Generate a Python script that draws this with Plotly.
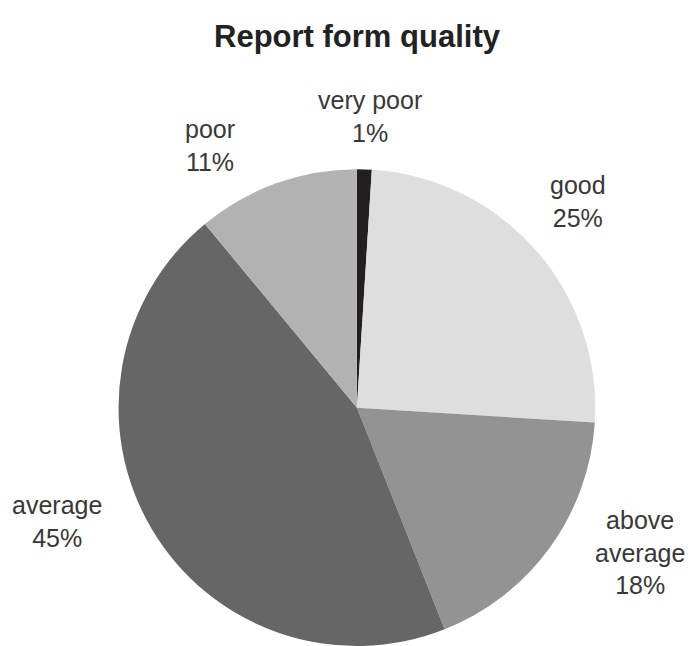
import plotly.graph_objects as go

# Survey answers, clockwise from 12 o'clock
categories = ["very poor", "good", "above average", "average", "poor"]
shares = [1, 25, 18, 45, 11]
label_text = ["very poor", "good", "above<br>average", "average", "poor"]
slice_colors = ["#231f20", "#dedede", "#939393", "#666666", "#b2b2b2"]

# Label anchor points in pixels (x from left, y from top) of the 693x646 canvas
label_px = [(370, 117), (578, 201), (640, 552), (57, 521), (210, 146)]

W, H = 693, 646

fig = go.Figure(
    go.Pie(
        labels=categories,
        values=shares,
        sort=False,
        direction="clockwise",
        rotation=0,
        textinfo="none",
        hoverinfo="label+percent",
        marker=dict(colors=slice_colors, line=dict(width=0)),
        domain=dict(x=[0.170, 0.860], y=[0.0, 0.738]),
        showlegend=False,
    )
)

for txt, val, (px, py) in zip(label_text, shares, label_px):
    fig.add_annotation(
        text=f"{txt}<br>{val}%",
        x=px / W,
        y=1 - py / H,
        xref="paper",
        yref="paper",
        xanchor="center",
        yanchor="middle",
        showarrow=False,
        align="center",
        font=dict(family="Liberation Sans, Arial, sans-serif", size=25, color="#383838"),
    )

fig.update_layout(
    width=W,
    height=H,
    margin=dict(l=0, r=0, t=0, b=0),
    paper_bgcolor="white",
    plot_bgcolor="white",
    title=dict(
        text="<b>Report form quality</b>",
        x=357 / W,
        xanchor="center",
        y=1 - 36 / H,
        yanchor="middle",
        font=dict(family="Liberation Sans, Arial, sans-serif", size=31, color="#222222"),
    ),
)

fig.write_html("out.html")
